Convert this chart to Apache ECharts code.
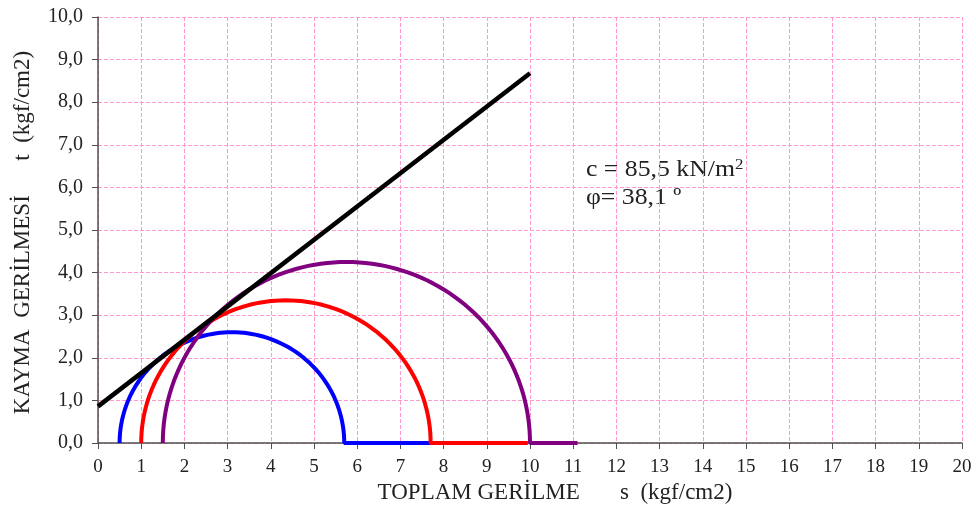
<!DOCTYPE html>
<html><head><meta charset="utf-8">
<script src="https://cdn.jsdelivr.net/npm/echarts@6/dist/echarts.min.js"></script>
<style>html,body{margin:0;padding:0;background:#fff}#c{width:976px;height:510px}</style>
</head><body><div id="c"></div>
<script>
// Mohr circles: minor and major principal stresses (kgf/cm2)
const sigma3 = [0.5, 1.0, 1.5];
const sigma1 = [5.7, 7.7, 10.0];
const tailEnd = [7.7, 9.95, 11.1];     // flat part of each series on the s axis
const circleColors = ['#0000ff', '#ff0000', '#800080'];
// Failure envelope endpoints
const envelopeX = [0, 10];
const envelopeY = [0.86, 8.68];
const xTicks = [0,1,2,3,4,5,6,7,8,9,10,11,12,13,14,15,16,17,18,19,20];
const yTicks = [0,1,2,3,4,5,6,7,8,9,10];
const noteC = 'c = 85,5 kN/m';
const notePhi = 'φ= 38,1 º';

function semicircle(s3, s1, end) {
  const c = (s1 + s3) / 2, r = (s1 - s3) / 2, pts = [];
  const n = 90;
  for (let i = 0; i <= n; i++) {
    const a = Math.PI - Math.PI * i / n;
    pts.push([c + r * Math.cos(a), Math.max(0, r * Math.sin(a))]);
  }
  pts.push([end, 0]);
  return pts;
}

const font = '"Liberation Serif", "Times New Roman", serif';
const series = sigma3.map((s3, i) => ({
  type: 'line', data: semicircle(s3, sigma1[i], tailEnd[i]), showSymbol: false,
  lineStyle: {color: circleColors[i], width: 4}, z: 3 + i, animation: false
}));
series.push({
  type: 'line', data: envelopeX.map((x, i) => [x, envelopeY[i]]), showSymbol: false,
  lineStyle: {color: '#000', width: 4.5}, z: 10, animation: false
});

const chart = echarts.init(document.getElementById('c'));
chart.setOption({
  animation: false,
  grid: {left: 98, right: 14, top: 17, bottom: 67},
  xAxis: {
    type: 'value', min: 0, max: 20, interval: 1,
    name: 'TOPLAM GERİLME       s  (kgf/cm2)', nameLocation: 'middle', nameGap: 38,
    nameTextStyle: {fontFamily: font, fontSize: 23, color: '#222', padding: [0, 0, 0, 50]},
    axisLine: {lineStyle: {color: '#505050', width: 1.5}},
    axisTick: {show: true, length: 6, lineStyle: {color: '#505050'}},
    axisLabel: {fontFamily: font, fontSize: 19, color: '#222', margin: 15},
    splitLine: {show: true, lineStyle: {color: '#ff99cc', type: [4, 2], width: 1}}
  },
  yAxis: {
    type: 'value', min: 0, max: 10, interval: 1,
    name: 'KAYMA  GERİLMESİ      t  (kgf/cm2)', nameLocation: 'middle', nameGap: 64,
    nameTextStyle: {fontFamily: font, fontSize: 23, color: '#222', padding: [0, 5, 0, 0]},
    axisLine: {show: true, lineStyle: {color: '#505050', width: 1.5}},
    axisTick: {show: true, length: 6, lineStyle: {color: '#505050'}},
    axisLabel: {fontFamily: font, fontSize: 20, color: '#222', margin: 15,
      formatter: v => v.toFixed(1).replace('.', ',')},
    splitLine: {show: true, lineStyle: {color: '#ff99cc', type: [4, 2], width: 1}}
  },
  graphic: [
    {type: 'text', left: 586, top: 158, scaleX: 1.12,
      style: {text: '{a|' + noteC + '}{s|2}', fill: '#222',
        rich: {a: {fontFamily: font, fontSize: 23, fill: '#222'},
               s: {fontFamily: font, fontSize: 15, fill: '#222', verticalAlign: 'top', padding: [0, 0, 8, 0]}}}},
    {type: 'text', left: 586, top: 186, scaleX: 1.12,
      style: {text: notePhi, font: '23px ' + font, fill: '#222'}}
  ],
  series: series
});
</script></body></html>
